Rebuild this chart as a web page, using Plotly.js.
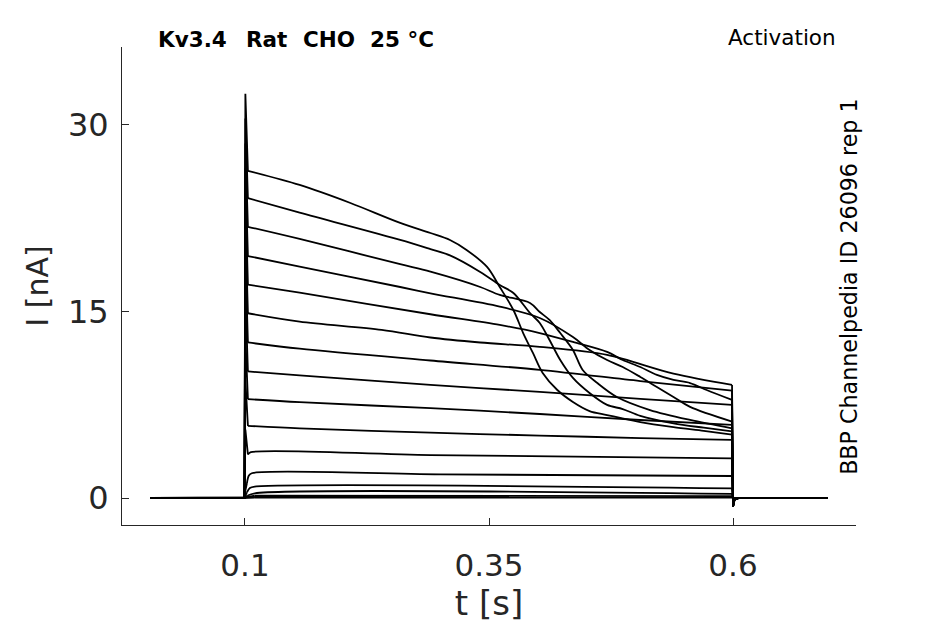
<!DOCTYPE html>
<html>
<head>
<meta charset="utf-8">
<script src="https://cdn.plot.ly/plotly-3.0.1.min.js"></script>
<style>
  html, body { margin: 0; padding: 0; background: #fff; }
  #plot { width: 945px; height: 624px; }
</style>
</head>
<body>
<div id="plot"></div>
<script>
// protocol: step on / off, recording window (s)
const stepOn = 0.1, stepOff = 0.6
const recStart = 0.003, recEnd = 0.697

// sweeps, highest voltage first: time (s) and current (nA) during the step
const t01 = [0.103, 0.156, 0.208, 0.259, 0.290, 0.310, 0.327, 0.348, 0.361, 0.375, 0.385, 0.395, 0.405, 0.420, 0.436, 0.453, 0.471, 0.505, 0.539, 0.570, 0.599]
const i01 = [26.3, 25.16, 23.71, 22.11, 21.30, 20.74, 19.94, 18.57, 16.96, 15.11, 13.26, 11.66, 10.05, 8.68, 7.72, 6.99, 6.67, 6.1, 5.7, 5.4, 5.1]
const t02 = [0.103, 0.156, 0.259, 0.290, 0.310, 0.341, 0.361, 0.375, 0.392, 0.402, 0.412, 0.423, 0.436, 0.453, 0.471, 0.487, 0.505, 0.539, 0.570, 0.599]
const i02 = [24.1, 22.93, 20.74, 20.0, 19.5, 18.17, 17.12, 16.48, 14.87, 14.07, 12.70, 11.09, 9.65, 8.44, 7.48, 7.15, 6.6, 6.0, 5.65, 5.35]
const t03 = [0.103, 0.156, 0.259, 0.290, 0.341, 0.361, 0.392, 0.402, 0.412, 0.423, 0.436, 0.446, 0.461, 0.481, 0.515, 0.556, 0.599]
const i03 = [21.8, 20.82, 18.79, 18.19, 16.96, 16.32, 15.68, 14.95, 14.31, 13.26, 11.90, 10.29, 9.24, 8.12, 7.07, 6.27, 5.6]
const t04 = [0.103, 0.156, 0.259, 0.290, 0.361, 0.402, 0.436, 0.453, 0.471, 0.487, 0.505, 0.522, 0.539, 0.556, 0.599]
const i04 = [19.45, 18.59, 16.96, 16.45, 15.38, 14.47, 12.94, 11.90, 11.09, 10.53, 9.73, 8.92, 8.12, 7.32, 6.14]
const t05 = [0.103, 0.156, 0.290, 0.361, 0.402, 0.436, 0.471, 0.487, 0.505, 0.522, 0.539, 0.556, 0.573, 0.599]
const i05 = [17.15, 16.50, 14.77, 13.91, 13.26, 12.54, 11.74, 11.09, 10.53, 9.89, 9.49, 9.24, 8.68, 7.88]
const t06 = [0.103, 0.156, 0.240, 0.290, 0.341, 0.402, 0.471, 0.539, 0.599]
const i06 = [14.85, 14.18, 13.52, 12.90, 12.5, 12.15, 11.5, 10.0, 9.09]
const t07 = [0.103, 0.156, 0.290, 0.402, 0.505, 0.599]
const i07 = [12.5, 12.0, 11.05, 10.3, 9.4, 8.63]
const t08 = [0.103, 0.156, 0.290, 0.402, 0.505, 0.599]
const i08 = [10.17, 9.85, 9.09, 8.53, 7.96, 7.48]
const t09 = [0.103, 0.156, 0.290, 0.402, 0.505, 0.599]
const i09 = [7.95, 7.7, 7.22, 6.75, 6.27, 5.87]
const t10 = [0.103, 0.156, 0.290, 0.402, 0.505, 0.599]
const i10 = [5.8, 5.6, 5.25, 5.02, 4.82, 4.67]
const t11 = [0.103, 0.106, 0.290, 0.599]
const i11 = [3.5, 3.68, 3.45, 3.19]
const t12 = [0.102, 0.104, 0.107, 0.300, 0.599]
const i12 = [1.2, 1.8, 1.99, 1.9, 1.77]
const t13 = [0.102, 0.105, 0.110, 0.599]
const i13 = [0.45, 0.8, 0.91, 0.78]
const t14 = [0.103, 0.110, 0.599]
const i14 = [0.2, 0.38, 0.33]
const t15 = [0.110, 0.599]
const i15 = [0.18, 0.15]
const t16 = [0.110, 0.599]
const i16 = [0.08, 0.07]
const t17 = [0.110, 0.599]
const i17 = [0.03, 0.03]

// onset transient peak and tail dip at step off (nA)
const peakI = [32.5, 30.5, 28.5, 26.5, 24.5, 22, 19.5, 16.5, 13, 9.5, 5.5, 0.6, 0.2, 0.1, 0.05, 0.02, 0.01]
const tailI = [-0.7, -0.7, -0.7, -0.7, -0.7, -0.7, -0.65, -0.6, -0.5, -0.45, -0.35, -0.2, -0.1, -0.05, -0.02, -0.01, 0]

const tickT = [0.1, 0.35, 0.6]
const tickTLabels = ["0.1", "0.35", "0.6"]
const tickI = [0, 15, 30]
const tickILabels = ["0", "15", "30"]

// header words: gene, species, cell line, temperature
const headerWords = ["Kv3.4", "Rat", "CHO", "25 °C"]
const headerX = [0.0463, 0.1662, 0.2439, 0.3351]

const sweepsT = [t01, t02, t03, t04, t05, t06, t07, t08, t09, t10, t11, t12, t13, t14, t15, t16, t17]
const sweepsI = [i01, i02, i03, i04, i05, i06, i07, i08, i09, i10, i11, i12, i13, i14, i15, i16, i17]

const ink = "#262626"
const font = "DejaVu Sans, sans-serif"
const lineStyle = { color: "#000", width: 1.8 }

const data = []
sweepsT.forEach((ts, k) => {
    const is = sweepsI[k]
    const last = ts.length - 1
    // baseline, onset transient, and the step-off tail: straight segments
    data.push({
        type: "scatter", mode: "lines",
        x: [recStart, stepOn - 0.0004, stepOn + 0.0004, ts[0], null, ts[last], stepOff, stepOff + 0.0015, stepOff + 0.006, recEnd],
        y: [0, 0, peakI[k], is[0], null, is[last], tailI[k], tailI[k] * 0.2, 0, 0],
        line: lineStyle, hoverinfo: "skip", showlegend: false
    })
    // sustained current during the step
    data.push({
        type: "scatter", mode: "lines",
        x: ts, y: is,
        line: { ...lineStyle, shape: "spline", smoothing: 0.9 },
        hoverinfo: "skip", showlegend: false
    })
})

const header = headerWords.map((w, k) => ({
    text: "<b>" + w + "</b>",
    xref: "paper", yref: "paper", x: headerX[k], y: 1.015,
    xanchor: "left", yanchor: "middle", showarrow: false,
    font: { size: 21.5, color: "#000", family: font }
}))

const layout = {
    width: 945,
    height: 624,
    margin: { l: 122, r: 89, t: 47, b: 99, pad: 0 },
    paper_bgcolor: "#fff",
    plot_bgcolor: "#fff",
    font: { family: font, color: ink },
    showlegend: false,
    xaxis: {
        range: [-0.026, 0.726],
        tickvals: tickT,
        ticktext: tickTLabels,
        ticks: "inside",
        ticklen: 7,
        tickcolor: ink,
        tickfont: { size: 31, color: ink },
        ticklabelstandoff: 13,
        showline: true,
        linecolor: ink,
        linewidth: 1,
        showgrid: false,
        zeroline: false,
        title: { text: "t [s]", font: { size: 34, color: ink }, standoff: 4 }
    },
    yaxis: {
        range: [-2.17, 36.25],
        tickvals: tickI,
        ticktext: tickILabels,
        ticks: "inside",
        ticklen: 7,
        tickcolor: ink,
        tickfont: { size: 32, color: ink },
        ticklabelstandoff: 6,
        showline: true,
        linecolor: ink,
        linewidth: 1,
        showgrid: false,
        zeroline: false,
        title: { text: "I [nA]", font: { size: 30, color: ink }, standoff: 10 }
    },
    annotations: [
        ...header,
        {
            text: "Activation",
            xref: "paper", yref: "paper", x: 0.9755, y: 1.019,
            xanchor: "right", yanchor: "middle", showarrow: false,
            font: { size: 21.5, color: "#000", family: font }
        },
        {
            text: "BBP Channelpedia ID 26096 rep 1",
            xref: "paper", yref: "paper", x: 0.991, y: 0.499,
            xanchor: "center", yanchor: "middle", showarrow: false,
            textangle: -90,
            font: { size: 22.2, color: "#000", family: font }
        }
    ]
}

Plotly.newPlot("plot", data, layout, { staticPlot: true, displayModeBar: false })
</script>
</body>
</html>
